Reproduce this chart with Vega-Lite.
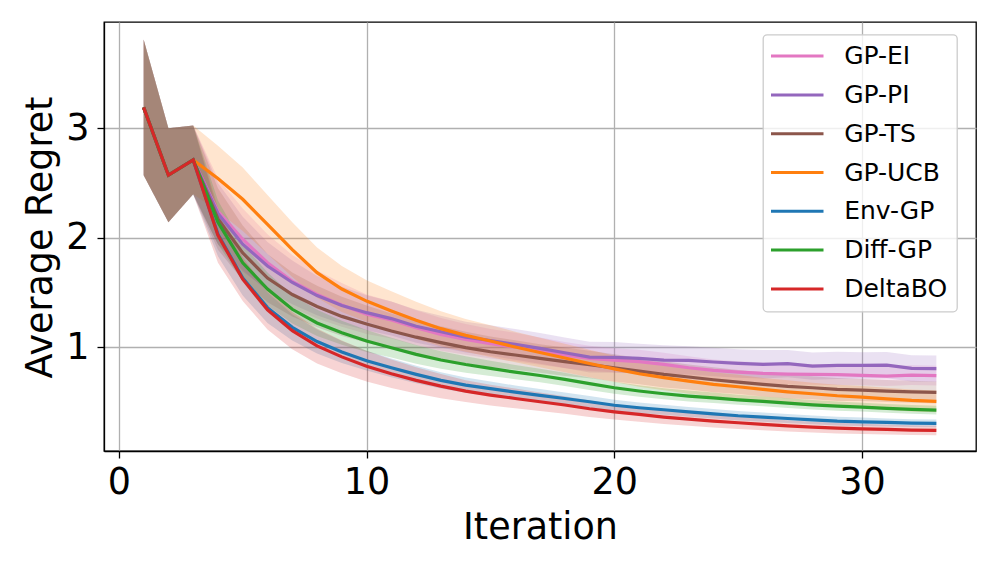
{
"$schema": "https://vega.github.io/schema/vega-lite/v6.json",
"width": 872, "height": 429,
"autosize": {"type": "none"},
"padding": {"left": 104, "top": 22, "right": 21, "bottom": 119},
"config": {
  "font": "DejaVu Sans",
  "view": {"stroke": "black", "strokeWidth": 1.3},
  "axis": {"grid": true, "gridColor": "#b0b0b0", "gridWidth": 1.3, "gridOpacity": 1, "domainColor": "black", "domainWidth": 1.3, "tickColor": "black", "tickWidth": 1.3, "tickSize": 7, "labelFont": "DejaVu Sans", "labelFontSize": 36.5, "labelColor": "black", "titleFont": "DejaVu Sans", "titleFontSize": 36.5, "titleFontWeight": "normal", "titleColor": "black"},
  "axisX": {"labelPadding": 6.5, "titleBaseline": "alphabetic", "titleY": 87.3},
  "axisY": {"labelPadding": 8, "titleBaseline": "alphabetic", "titleX": -52.3, "titleY": 215},
  "legend": {"orient": "none", "legendX": 659, "legendY": 12.6, "title": null, "symbolType": "M-2.5,0H2.5", "symbolSize": 441, "symbolStrokeWidth": 3, "symbolOpacity": 1, "symbolOffset": 12.75, "labelFont": "DejaVu Sans", "labelFontSize": 25, "labelColor": "black", "labelOffset": 34.4, "rowPadding": 12.8, "padding": 9, "fillColor": "rgba(255,255,255,0.8)", "strokeColor": "#cccccc", "strokeWidth": 1.3, "cornerRadius": 4}
},
"datasets": {"runs": [
{"m":"GP-EI","x":1,"y":3.19,"e":0.62},{"m":"GP-EI","x":2,"y":2.57,"e":0.43},{"m":"GP-EI","x":3,"y":2.71,"e":0.315},
{"m":"GP-EI","x":4,"y":2.24,"e":0.30},{"m":"GP-EI","x":5,"y":1.985,"e":0.28},{"m":"GP-EI","x":6,"y":1.77,"e":0.26},{"m":"GP-EI","x":7,"y":1.60,"e":0.24},{"m":"GP-EI","x":8,"y":1.48,"e":0.22},{"m":"GP-EI","x":9,"y":1.385,"e":0.20},{"m":"GP-EI","x":10,"y":1.30,"e":0.18},{"m":"GP-EI","x":11,"y":1.247,"e":0.17},{"m":"GP-EI","x":12,"y":1.177,"e":0.16},{"m":"GP-EI","x":13,"y":1.116,"e":0.15},{"m":"GP-EI","x":14,"y":1.07,"e":0.14},{"m":"GP-EI","x":15,"y":1.03,"e":0.135},{"m":"GP-EI","x":16,"y":1.0,"e":0.13},{"m":"GP-EI","x":17,"y":0.963,"e":0.125},{"m":"GP-EI","x":18,"y":0.927,"e":0.12},{"m":"GP-EI","x":19,"y":0.896,"e":0.115},{"m":"GP-EI","x":20,"y":0.88,"e":0.11},{"m":"GP-EI","x":21,"y":0.866,"e":0.11},{"m":"GP-EI","x":22,"y":0.842,"e":0.105},{"m":"GP-EI","x":23,"y":0.811,"e":0.105},{"m":"GP-EI","x":24,"y":0.787,"e":0.1},{"m":"GP-EI","x":25,"y":0.771,"e":0.1},{"m":"GP-EI","x":26,"y":0.759,"e":0.1},{"m":"GP-EI","x":27,"y":0.753,"e":0.095},{"m":"GP-EI","x":28,"y":0.75,"e":0.095},{"m":"GP-EI","x":29,"y":0.747,"e":0.095},{"m":"GP-EI","x":30,"y":0.741,"e":0.09},{"m":"GP-EI","x":31,"y":0.735,"e":0.09},{"m":"GP-EI","x":32,"y":0.744,"e":0.09},{"m":"GP-EI","x":33,"y":0.738,"e":0.09},
{"m":"GP-PI","x":1,"y":3.19,"e":0.62},{"m":"GP-PI","x":2,"y":2.57,"e":0.43},{"m":"GP-PI","x":3,"y":2.71,"e":0.315},
{"m":"GP-PI","x":4,"y":2.22,"e":0.28},{"m":"GP-PI","x":5,"y":1.94,"e":0.25},{"m":"GP-PI","x":6,"y":1.74,"e":0.22},{"m":"GP-PI","x":7,"y":1.59,"e":0.20},{"m":"GP-PI","x":8,"y":1.47,"e":0.18},{"m":"GP-PI","x":9,"y":1.38,"e":0.17},{"m":"GP-PI","x":10,"y":1.314,"e":0.16},{"m":"GP-PI","x":11,"y":1.26,"e":0.155},{"m":"GP-PI","x":12,"y":1.19,"e":0.15},{"m":"GP-PI","x":13,"y":1.14,"e":0.145},{"m":"GP-PI","x":14,"y":1.09,"e":0.14},{"m":"GP-PI","x":15,"y":1.06,"e":0.14},{"m":"GP-PI","x":16,"y":1.024,"e":0.14},{"m":"GP-PI","x":17,"y":0.988,"e":0.14},{"m":"GP-PI","x":18,"y":0.948,"e":0.14},{"m":"GP-PI","x":19,"y":0.908,"e":0.14},{"m":"GP-PI","x":20,"y":0.905,"e":0.14},{"m":"GP-PI","x":21,"y":0.896,"e":0.135},{"m":"GP-PI","x":22,"y":0.881,"e":0.135},{"m":"GP-PI","x":23,"y":0.878,"e":0.13},{"m":"GP-PI","x":24,"y":0.863,"e":0.13},{"m":"GP-PI","x":25,"y":0.85,"e":0.13},{"m":"GP-PI","x":26,"y":0.842,"e":0.13},{"m":"GP-PI","x":27,"y":0.848,"e":0.125},{"m":"GP-PI","x":28,"y":0.826,"e":0.125},{"m":"GP-PI","x":29,"y":0.832,"e":0.125},{"m":"GP-PI","x":30,"y":0.832,"e":0.12},{"m":"GP-PI","x":31,"y":0.835,"e":0.12},{"m":"GP-PI","x":32,"y":0.805,"e":0.12},{"m":"GP-PI","x":33,"y":0.802,"e":0.12},
{"m":"GP-TS","x":1,"y":3.19,"e":0.62},{"m":"GP-TS","x":2,"y":2.57,"e":0.43},{"m":"GP-TS","x":3,"y":2.71,"e":0.315},
{"m":"GP-TS","x":4,"y":2.17,"e":0.28},{"m":"GP-TS","x":5,"y":1.86,"e":0.25},{"m":"GP-TS","x":6,"y":1.63,"e":0.22},{"m":"GP-TS","x":7,"y":1.48,"e":0.20},{"m":"GP-TS","x":8,"y":1.37,"e":0.19},{"m":"GP-TS","x":9,"y":1.28,"e":0.18},{"m":"GP-TS","x":10,"y":1.21,"e":0.17},{"m":"GP-TS","x":11,"y":1.146,"e":0.16},{"m":"GP-TS","x":12,"y":1.09,"e":0.155},{"m":"GP-TS","x":13,"y":1.04,"e":0.15},{"m":"GP-TS","x":14,"y":0.994,"e":0.145},{"m":"GP-TS","x":15,"y":0.957,"e":0.14},{"m":"GP-TS","x":16,"y":0.927,"e":0.135},{"m":"GP-TS","x":17,"y":0.896,"e":0.13},{"m":"GP-TS","x":18,"y":0.866,"e":0.13},{"m":"GP-TS","x":19,"y":0.84,"e":0.125},{"m":"GP-TS","x":20,"y":0.81,"e":0.125},{"m":"GP-TS","x":21,"y":0.78,"e":0.12},{"m":"GP-TS","x":22,"y":0.75,"e":0.12},{"m":"GP-TS","x":23,"y":0.726,"e":0.115},{"m":"GP-TS","x":24,"y":0.701,"e":0.115},{"m":"GP-TS","x":25,"y":0.68,"e":0.11},{"m":"GP-TS","x":26,"y":0.659,"e":0.11},{"m":"GP-TS","x":27,"y":0.64,"e":0.11},{"m":"GP-TS","x":28,"y":0.628,"e":0.105},{"m":"GP-TS","x":29,"y":0.613,"e":0.105},{"m":"GP-TS","x":30,"y":0.607,"e":0.1},{"m":"GP-TS","x":31,"y":0.598,"e":0.1},{"m":"GP-TS","x":32,"y":0.591,"e":0.1},{"m":"GP-TS","x":33,"y":0.585,"e":0.1},
{"m":"GP-UCB","x":1,"y":3.19,"e":0.62},{"m":"GP-UCB","x":2,"y":2.57,"e":0.43},{"m":"GP-UCB","x":3,"y":2.71,"e":0.315},
{"m":"GP-UCB","x":4,"y":2.54,"e":0.30},{"m":"GP-UCB","x":5,"y":2.35,"e":0.29},{"m":"GP-UCB","x":6,"y":2.12,"e":0.27},{"m":"GP-UCB","x":7,"y":1.89,"e":0.25},{"m":"GP-UCB","x":8,"y":1.68,"e":0.23},{"m":"GP-UCB","x":9,"y":1.53,"e":0.21},{"m":"GP-UCB","x":10,"y":1.42,"e":0.19},{"m":"GP-UCB","x":11,"y":1.33,"e":0.18},{"m":"GP-UCB","x":12,"y":1.244,"e":0.17},{"m":"GP-UCB","x":13,"y":1.168,"e":0.16},{"m":"GP-UCB","x":14,"y":1.107,"e":0.15},{"m":"GP-UCB","x":15,"y":1.055,"e":0.145},{"m":"GP-UCB","x":16,"y":1.0,"e":0.14},{"m":"GP-UCB","x":17,"y":0.95,"e":0.135},{"m":"GP-UCB","x":18,"y":0.90,"e":0.13},{"m":"GP-UCB","x":19,"y":0.85,"e":0.125},{"m":"GP-UCB","x":20,"y":0.80,"e":0.12},{"m":"GP-UCB","x":21,"y":0.756,"e":0.12},{"m":"GP-UCB","x":22,"y":0.72,"e":0.115},{"m":"GP-UCB","x":23,"y":0.689,"e":0.115},{"m":"GP-UCB","x":24,"y":0.659,"e":0.11},{"m":"GP-UCB","x":25,"y":0.637,"e":0.11},{"m":"GP-UCB","x":26,"y":0.613,"e":0.105},{"m":"GP-UCB","x":27,"y":0.591,"e":0.105},{"m":"GP-UCB","x":28,"y":0.573,"e":0.1},{"m":"GP-UCB","x":29,"y":0.555,"e":0.1},{"m":"GP-UCB","x":30,"y":0.543,"e":0.1},{"m":"GP-UCB","x":31,"y":0.527,"e":0.1},{"m":"GP-UCB","x":32,"y":0.512,"e":0.1},{"m":"GP-UCB","x":33,"y":0.503,"e":0.1},
{"m":"Env-GP","x":1,"y":3.19,"e":0.62},{"m":"Env-GP","x":2,"y":2.57,"e":0.43},{"m":"Env-GP","x":3,"y":2.71,"e":0.315},
{"m":"Env-GP","x":4,"y":2.03,"e":0.20},{"m":"Env-GP","x":5,"y":1.63,"e":0.16},{"m":"Env-GP","x":6,"y":1.36,"e":0.14},{"m":"Env-GP","x":7,"y":1.18,"e":0.12},{"m":"Env-GP","x":8,"y":1.05,"e":0.11},{"m":"Env-GP","x":9,"y":0.955,"e":0.10},{"m":"Env-GP","x":10,"y":0.875,"e":0.09},{"m":"Env-GP","x":11,"y":0.81,"e":0.085},{"m":"Env-GP","x":12,"y":0.75,"e":0.08},{"m":"Env-GP","x":13,"y":0.695,"e":0.075},{"m":"Env-GP","x":14,"y":0.652,"e":0.07},{"m":"Env-GP","x":15,"y":0.62,"e":0.065},{"m":"Env-GP","x":16,"y":0.588,"e":0.06},{"m":"Env-GP","x":17,"y":0.558,"e":0.058},{"m":"Env-GP","x":18,"y":0.53,"e":0.055},{"m":"Env-GP","x":19,"y":0.50,"e":0.053},{"m":"Env-GP","x":20,"y":0.468,"e":0.05},{"m":"Env-GP","x":21,"y":0.445,"e":0.048},{"m":"Env-GP","x":22,"y":0.427,"e":0.046},{"m":"Env-GP","x":23,"y":0.408,"e":0.045},{"m":"Env-GP","x":24,"y":0.39,"e":0.044},{"m":"Env-GP","x":25,"y":0.372,"e":0.043},{"m":"Env-GP","x":26,"y":0.36,"e":0.042},{"m":"Env-GP","x":27,"y":0.347,"e":0.041},{"m":"Env-GP","x":28,"y":0.335,"e":0.04},{"m":"Env-GP","x":29,"y":0.323,"e":0.039},{"m":"Env-GP","x":30,"y":0.317,"e":0.038},{"m":"Env-GP","x":31,"y":0.311,"e":0.037},{"m":"Env-GP","x":32,"y":0.305,"e":0.036},{"m":"Env-GP","x":33,"y":0.302,"e":0.035},
{"m":"Diff-GP","x":1,"y":3.19,"e":0.62},{"m":"Diff-GP","x":2,"y":2.57,"e":0.43},{"m":"Diff-GP","x":3,"y":2.71,"e":0.315},
{"m":"Diff-GP","x":4,"y":2.14,"e":0.20},{"m":"Diff-GP","x":5,"y":1.77,"e":0.17},{"m":"Diff-GP","x":6,"y":1.53,"e":0.15},{"m":"Diff-GP","x":7,"y":1.345,"e":0.13},{"m":"Diff-GP","x":8,"y":1.22,"e":0.12},{"m":"Diff-GP","x":9,"y":1.13,"e":0.11},{"m":"Diff-GP","x":10,"y":1.055,"e":0.10},{"m":"Diff-GP","x":11,"y":0.994,"e":0.09},{"m":"Diff-GP","x":12,"y":0.933,"e":0.085},{"m":"Diff-GP","x":13,"y":0.881,"e":0.08},{"m":"Diff-GP","x":14,"y":0.84,"e":0.075},{"m":"Diff-GP","x":15,"y":0.805,"e":0.07},{"m":"Diff-GP","x":16,"y":0.771,"e":0.065},{"m":"Diff-GP","x":17,"y":0.74,"e":0.062},{"m":"Diff-GP","x":18,"y":0.704,"e":0.06},{"m":"Diff-GP","x":19,"y":0.665,"e":0.057},{"m":"Diff-GP","x":20,"y":0.628,"e":0.055},{"m":"Diff-GP","x":21,"y":0.598,"e":0.053},{"m":"Diff-GP","x":22,"y":0.573,"e":0.05},{"m":"Diff-GP","x":23,"y":0.552,"e":0.05},{"m":"Diff-GP","x":24,"y":0.536,"e":0.048},{"m":"Diff-GP","x":25,"y":0.518,"e":0.046},{"m":"Diff-GP","x":26,"y":0.503,"e":0.045},{"m":"Diff-GP","x":27,"y":0.488,"e":0.044},{"m":"Diff-GP","x":28,"y":0.472,"e":0.043},{"m":"Diff-GP","x":29,"y":0.46,"e":0.042},{"m":"Diff-GP","x":30,"y":0.451,"e":0.041},{"m":"Diff-GP","x":31,"y":0.439,"e":0.04},{"m":"Diff-GP","x":32,"y":0.43,"e":0.04},{"m":"Diff-GP","x":33,"y":0.424,"e":0.04},
{"m":"DeltaBO","x":1,"y":3.19,"e":0.62},{"m":"DeltaBO","x":2,"y":2.57,"e":0.43},{"m":"DeltaBO","x":3,"y":2.71,"e":0.315},
{"m":"DeltaBO","x":4,"y":2.02,"e":0.25},{"m":"DeltaBO","x":5,"y":1.62,"e":0.20},{"m":"DeltaBO","x":6,"y":1.34,"e":0.18},{"m":"DeltaBO","x":7,"y":1.15,"e":0.17},{"m":"DeltaBO","x":8,"y":1.01,"e":0.16},{"m":"DeltaBO","x":9,"y":0.91,"e":0.15},{"m":"DeltaBO","x":10,"y":0.825,"e":0.14},{"m":"DeltaBO","x":11,"y":0.756,"e":0.13},{"m":"DeltaBO","x":12,"y":0.695,"e":0.12},{"m":"DeltaBO","x":13,"y":0.643,"e":0.11},{"m":"DeltaBO","x":14,"y":0.597,"e":0.10},{"m":"DeltaBO","x":15,"y":0.561,"e":0.095},{"m":"DeltaBO","x":16,"y":0.53,"e":0.09},{"m":"DeltaBO","x":17,"y":0.50,"e":0.085},{"m":"DeltaBO","x":18,"y":0.47,"e":0.08},{"m":"DeltaBO","x":19,"y":0.436,"e":0.075},{"m":"DeltaBO","x":20,"y":0.408,"e":0.07},{"m":"DeltaBO","x":21,"y":0.384,"e":0.067},{"m":"DeltaBO","x":22,"y":0.36,"e":0.064},{"m":"DeltaBO","x":23,"y":0.341,"e":0.06},{"m":"DeltaBO","x":24,"y":0.323,"e":0.058},{"m":"DeltaBO","x":25,"y":0.308,"e":0.056},{"m":"DeltaBO","x":26,"y":0.293,"e":0.054},{"m":"DeltaBO","x":27,"y":0.28,"e":0.052},{"m":"DeltaBO","x":28,"y":0.268,"e":0.05},{"m":"DeltaBO","x":29,"y":0.259,"e":0.048},{"m":"DeltaBO","x":30,"y":0.253,"e":0.047},{"m":"DeltaBO","x":31,"y":0.247,"e":0.046},{"m":"DeltaBO","x":32,"y":0.241,"e":0.045},{"m":"DeltaBO","x":33,"y":0.238,"e":0.045}
]},
"data": {"name": "runs"},
"encoding": {
  "x": {"field": "x", "type": "quantitative", "title": "Iteration", "scale": {"domain": [-0.6, 34.6], "nice": false, "zero": false}, "axis": {"values": [0, 10, 20, 30]}}
},
"layer": [
  {
    "mark": {"type": "errorband", "band": {"opacity": 0.2}, "interpolate": "linear"},
    "encoding": {
      "y": {"field": "y", "type": "quantitative", "title": "Average Regret", "scale": {"domain": [0.05, 3.97], "nice": false, "zero": false}, "axis": {"values": [1, 2, 3]}},
      "yError": {"field": "e"},
      "color": {"field": "m", "type": "nominal", "scale": {"domain": ["GP-EI", "GP-PI", "GP-TS", "GP-UCB", "Env-GP", "Diff-GP", "DeltaBO"], "range": ["#e377c2", "#9467bd", "#8c564b", "#ff7f0e", "#1f77b4", "#2ca02c", "#d62728"]}, "legend": {"symbolOpacity": 1}}
    }
  },
  {
    "mark": {"type": "line", "strokeWidth": 3.2},
    "encoding": {
      "y": {"field": "y", "type": "quantitative", "title": "Average Regret", "axis": {"values": [1, 2, 3]}},
      "color": {"field": "m", "type": "nominal", "scale": {"domain": ["GP-EI", "GP-PI", "GP-TS", "GP-UCB", "Env-GP", "Diff-GP", "DeltaBO"], "range": ["#e377c2", "#9467bd", "#8c564b", "#ff7f0e", "#1f77b4", "#2ca02c", "#d62728"]}, "legend": {"symbolOpacity": 1}}
    }
  }
]
}
